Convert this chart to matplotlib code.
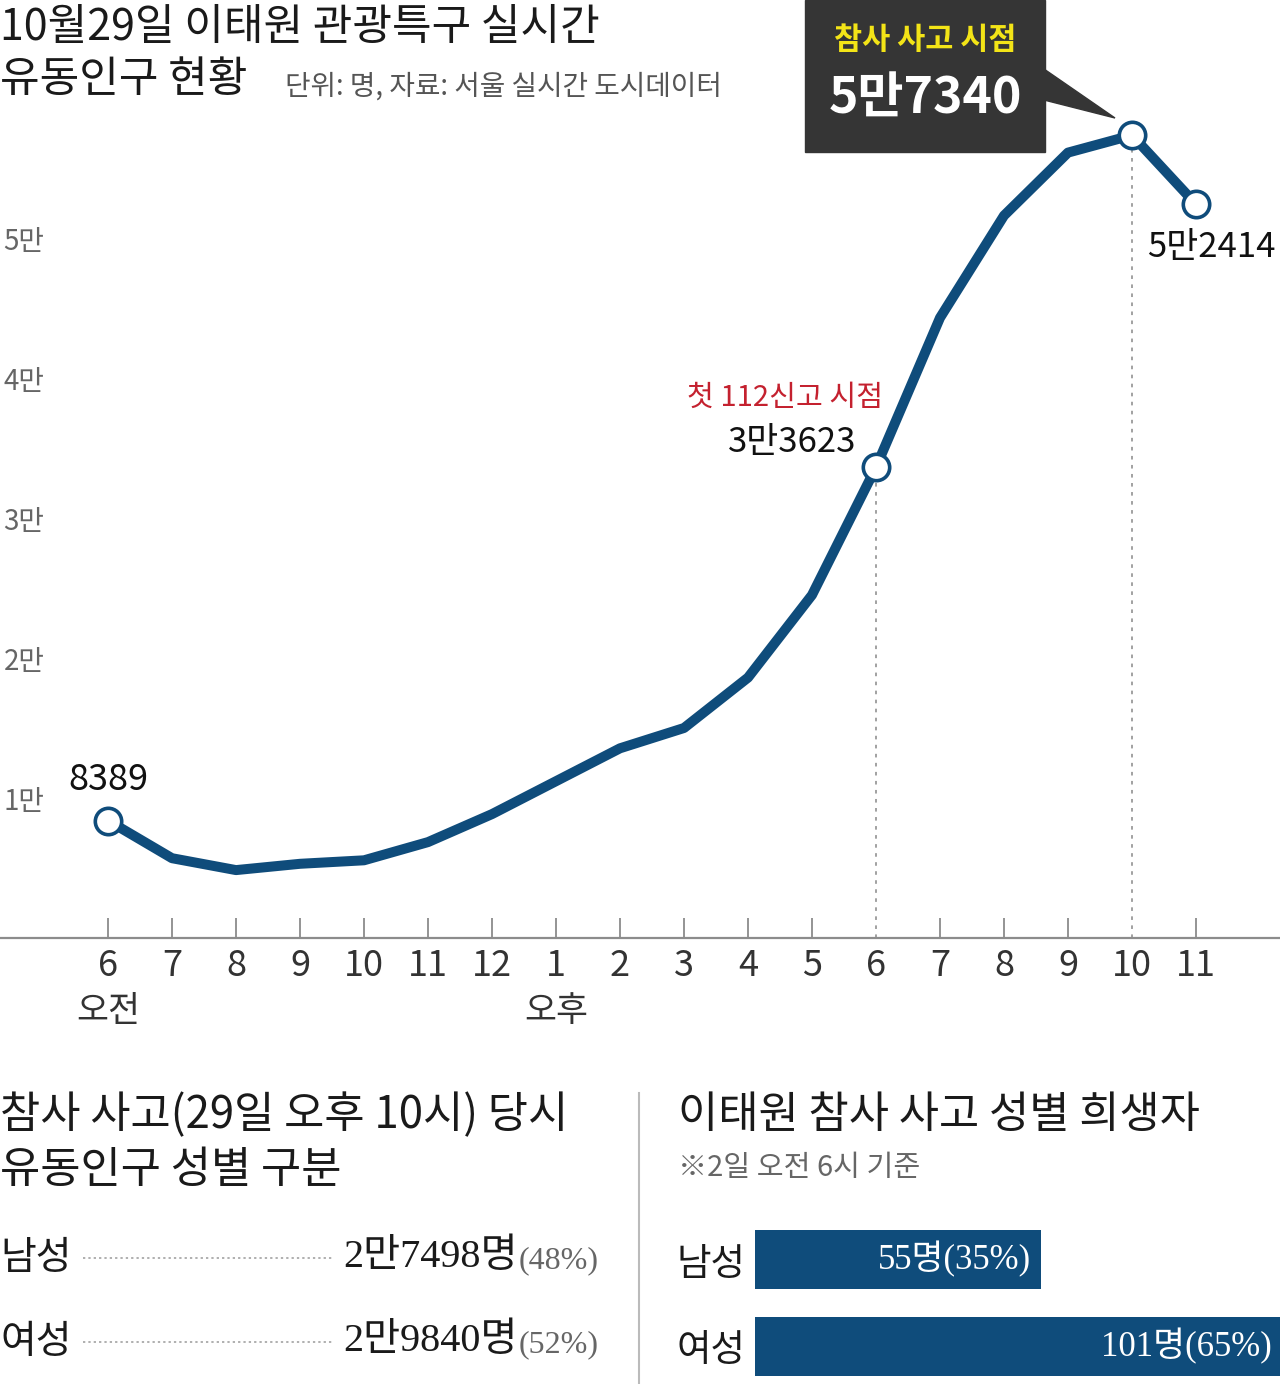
import matplotlib.pyplot as plt
import matplotlib.transforms as mtransforms
from matplotlib.patches import Rectangle, Polygon
from matplotlib.lines import Line2D

plt.rcParams['font.family'] = ['Noto Sans CJK KR', 'DejaVu Sans']
SERIF = ['Liberation Serif', 'Noto Sans CJK KR', 'DejaVu Sans']

# 10월 29일 시간대별 유동인구 (오전 6시 ~ 오후 11시)
hours = ['6', '7', '8', '9', '10', '11', '12', '1', '2', '3', '4', '5',
         '6', '7', '8', '9', '10', '11']
population = [8389, 5700, 4850, 5300, 5550, 6850, 8850, 11200, 13550, 15000,
              18600, 24500, 33623, 44300, 51600, 56100, 57340, 52414]
marked = [0, 12, 16, 17]
y_ticks = [10000, 20000, 30000, 40000, 50000]
y_labels = ['1만', '2만', '3만', '4만', '5만']

# 사고 당시 유동인구 성별
gender = ['남성', '여성']
gender_pop = [27498, 29840]
gender_pop_pct = [48, 52]

# 성별 희생자
victims = [55, 101]
victims_pct = [35, 65]

BLUE = '#0f4c7b'
W, H = 1280, 1384


def man(v):
    if v >= 10000:
        return f"{v // 10000}만{v % 10000}"
    return str(v)


fig = plt.figure(figsize=(W / 100, H / 100), dpi=100)
px = mtransforms.Affine2D().scale(1 / W, -1 / H).translate(0, 1) + fig.transFigure

# ---- main line chart ----
ax = fig.add_axes([0, (H - 938) / H, 1, 938 / H])
ax.set_facecolor('none')
x = list(range(len(population)))
ax.plot(x, population, color=BLUE, lw=7.2, solid_joinstyle='round', zorder=3)
ax.plot([x[i] for i in marked], [population[i] for i in marked], 'o', ms=19,
        mfc='white', mec=BLUE, mew=2.6, zorder=4)
ax.vlines([12, 16], 0, [population[12], population[16]], colors='#9a9a9a',
          linestyles=(0, (2, 3)), lw=1.3, zorder=1)

ax.set_xlim(-108 / 64, (W - 108) / 64)
ax.set_ylim(0, 938 / 0.014)
for s in ['top', 'right', 'left']:
    ax.spines[s].set_visible(False)
ax.spines['bottom'].set_color('#8c8c8c')
ax.spines['bottom'].set_linewidth(1.6)

ax.set_xticks(x, hours)
ax.tick_params(axis='x', direction='in', length=14.4, width=1.1, color='#777777',
               labelsize=26, labelcolor='#333333', pad=7)
for i in [12, 16]:
    ax.xaxis.get_major_ticks()[i].tick1line.set_visible(False)

ax.set_yticks(y_ticks, y_labels)
ax.tick_params(axis='y', length=0, pad=-2.5, labelsize=20, labelcolor='#666666')
for lab in ax.get_yticklabels():
    lab.set_horizontalalignment('left')

ax.annotate('오전', xy=(0, 0), xycoords='data', xytext=(0, -53), textcoords='offset points',
            ha='center', va='center', fontsize=25, color='#333333')
ax.annotate('오후', xy=(7, 0), xycoords='data', xytext=(0, -53), textcoords='offset points',
            ha='center', va='center', fontsize=25, color='#333333')

# point labels
ax.annotate(man(population[0]), xy=(0, population[0]), xytext=(0, 29),
            textcoords='offset points', ha='center', va='center', fontsize=26, color='#111111')
ax.annotate(man(population[12]), xy=(12, population[12]), xytext=(-14, 18),
            textcoords='offset points', ha='right', va='center', fontsize=25, color='#111111')
ax.annotate('첫 112신고 시점', xy=(12, population[12]), xytext=(5, 50),
            textcoords='offset points', ha='right', va='center', fontsize=21, color='#c4212f')
ax.annotate(man(population[17]), xy=(17, population[17]), xytext=(57, -31),
            textcoords='offset points', ha='right', va='center', fontsize=25, color='#111111')

# callout box for peak
fig.add_artist(Rectangle((805, 0), 240, 152, transform=px, color='#353535', zorder=5))
fig.add_artist(Polygon([(1044, 69), (1044, 100), (1115, 118)], closed=True,
                       transform=px, color='#353535', zorder=5))
fig.text(925, 40, '참사 사고 시점', transform=px, ha='center', va='center',
         fontsize=22, fontweight='bold', color='#f3e417', zorder=6)
fig.text(925, 99, man(population[16]), transform=px, ha='center', va='center',
         fontsize=36, fontweight='bold', color='white', zorder=6)

# titles
fig.text(0, 28, '10월29일 이태원 관광특구 실시간', transform=px, ha='left', va='center',
         fontsize=31, color='#1a1a1a')
fig.text(0, 80, '유동인구 현황', transform=px, ha='left', va='center',
         fontsize=31, color='#1a1a1a')
fig.text(285, 87, '단위: 명, 자료: 서울 실시간 도시데이터', transform=px, ha='left',
         va='center', fontsize=20, color='#555555')

# ---- bottom left: population by gender ----
fig.text(0, 1115, '참사 사고(29일 오후 10시) 당시', transform=px, ha='left', va='center',
         fontsize=31.5, color='#1a1a1a')
fig.text(0, 1170, '유동인구 성별 구분', transform=px, ha='left', va='center',
         fontsize=31.5, color='#1a1a1a')
for i, (g, v, p) in enumerate(zip(gender, gender_pop, gender_pop_pct)):
    yy = 1258 + 84 * i
    fig.text(0, yy, g, transform=px, ha='left', va='center', fontsize=28, color='#1a1a1a')
    fig.add_artist(Line2D([83, 333], [yy, yy], transform=px, color='#9a9a9a',
                          lw=1.1, linestyle=(0, (1.5, 2))))
    t = fig.text(343, yy, man(v) + '명', transform=px, ha='left', va='center',
                 fontsize=29, color='#1a1a1a', family=SERIF)
    ax.annotate(f'({p}%)', xy=(1, 0.5), xycoords=t, xytext=(1, -2),
                textcoords='offset points', ha='left', va='center',
                fontsize=23, color='#666666', family=SERIF)

fig.add_artist(Line2D([639, 639], [1093, 1384], transform=px, color='#bbbbbb', lw=1.5))

# ---- bottom right: victims by gender ----
fig.text(678, 1115, '이태원 참사 사고 성별 희생자', transform=px, ha='left', va='center',
         fontsize=31.5, color='#1a1a1a')
fig.text(678, 1168, '※2일 오전 6시 기준', transform=px, ha='left', va='center',
         fontsize=21, color='#666666')

bx = fig.add_axes([755 / W, 0, 1 - 755 / W, 168 / H])
bx.barh([0, 1], victims, height=59 / 87, color=BLUE)
bx.set_xlim(0, victims[1])
bx.set_ylim((1384 - 1259.5) / 87, -0.5)
for s in bx.spines.values():
    s.set_visible(False)
bx.set_xticks([])
bx.set_yticks([0, 1], gender)
bx.tick_params(axis='y', length=0, pad=7, labelsize=27, labelcolor='#1a1a1a')
for i, (v, p) in enumerate(zip(victims, victims_pct)):
    bx.annotate(f'{v}명({p}%)', xy=(v, i), xytext=(-7 if i == 0 else -6, 0),
                textcoords='offset points', ha='right', va='center',
                fontsize=25, color='white', family=SERIF)

fig.savefig('out.png', dpi=100)
